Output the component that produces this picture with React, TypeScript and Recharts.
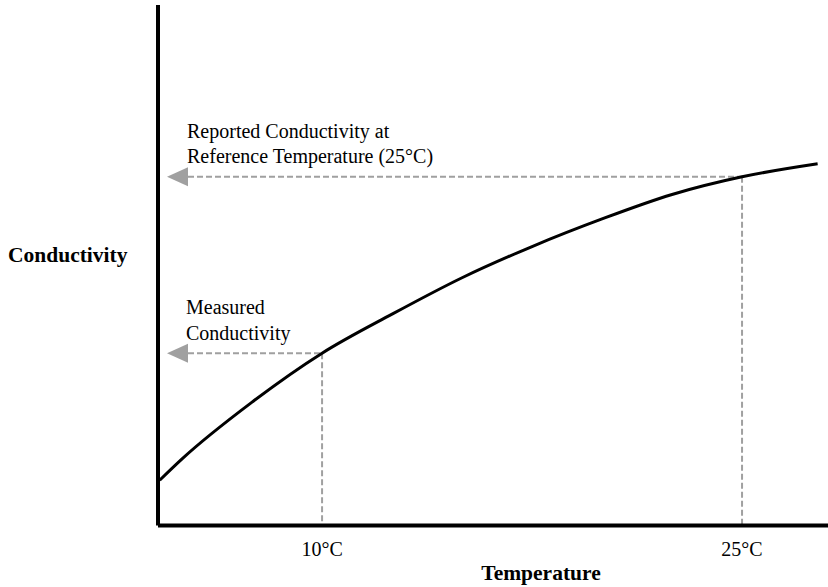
import React from 'react';
import { LineChart, Line, XAxis, YAxis, ReferenceLine } from 'recharts';

// Temperature (°C) along the curve and conductivity (arbitrary units)
const temperatures = [4.2, 5, 7.5, 10, 12.5, 15, 17.5, 20, 22.5, 25, 27.7];
const conductivity = [8.7, 12.8, 23.7, 33.1, 40.6, 47.6, 53.6, 58.9, 63.6, 67.0, 69.5];

const tempTicks = [10, 25];
const tickLabels: Record<number, string> = { 10: '10°C', 25: '25°C' };

// measured point and reference point on the curve
const measured = { t: 10, c: 33.1 };
const reported = { t: 25, c: 67.0 };

const X_DOMAIN: [number, number] = [4.14, 28.07];
const Y_DOMAIN: [number, number] = [0, 100];

const data = temperatures.map((t, i) => ({ t, c: conductivity[i] }));

const FONT = "'Liberation Serif', 'Times New Roman', serif";
const GRAY = '#a0a0a0';

function ArrowLine(props: any) {
  const { x1, y1, x2, y2 } = props;
  const left = Math.min(x1, x2);
  const right = Math.max(x1, x2);
  const tip = left + 9;
  const base = tip + 21;
  return (
    <g>
      <line x1={base} y1={y1} x2={right} y2={y2} stroke={GRAY} strokeWidth={2} strokeDasharray="6 3" />
      <polygon points={`${tip},${y1} ${base},${y1 - 9.5} ${base},${y1 + 9.5}`} fill={GRAY} />
    </g>
  );
}

export default function App() {
  return (
    <div style={{ position: 'absolute', left: 0, top: 0, width: 828, height: 587, background: '#fff' }}>
      <LineChart width={828} height={587} data={data} margin={{ top: 5, right: 0, bottom: 0, left: 0 }}>
        <XAxis
          dataKey="t"
          type="number"
          domain={X_DOMAIN}
          allowDataOverflow
          ticks={tempTicks}
          tickFormatter={(v) => tickLabels[v] ?? String(v)}
          tick={{ fill: '#000', fontSize: 20, fontFamily: FONT }}
          tickLine={false}
          tickSize={0}
          tickMargin={16}
          axisLine={{ stroke: '#000', strokeWidth: 4 }}
          height={61.5}
        />
        <YAxis
          type="number"
          domain={Y_DOMAIN}
          allowDataOverflow
          tick={false}
          tickLine={false}
          axisLine={{ stroke: '#000', strokeWidth: 4 }}
          width={158}
        />
        <ReferenceLine
          segment={[{ x: X_DOMAIN[0], y: reported.c }, { x: reported.t, y: reported.c }]}
          shape={ArrowLine}
          ifOverflow="visible"
        />
        <ReferenceLine
          segment={[{ x: reported.t, y: reported.c }, { x: reported.t, y: 0 }]}
          stroke={GRAY}
          strokeWidth={2}
          strokeDasharray="6 3"
          ifOverflow="visible"
        />
        <ReferenceLine
          segment={[{ x: X_DOMAIN[0], y: measured.c }, { x: measured.t, y: measured.c }]}
          shape={ArrowLine}
          ifOverflow="visible"
        />
        <ReferenceLine
          segment={[{ x: measured.t, y: measured.c }, { x: measured.t, y: 0 }]}
          stroke={GRAY}
          strokeWidth={2}
          strokeDasharray="6 3"
          ifOverflow="visible"
        />
        <Line
          type="monotone"
          dataKey="c"
          stroke="#000"
          strokeWidth={3}
          dot={false}
          isAnimationActive={false}
        />
        <text x={8} y={262} fontFamily={FONT} fontSize={21.5} fontWeight="bold" fill="#000">Conductivity</text>
        <text x={541} y={580} fontFamily={FONT} fontSize={21.5} fontWeight="bold" fill="#000" textAnchor="middle">Temperature</text>
        <text x={187} y={138} fontFamily={FONT} fontSize={20} fill="#000">Reported Conductivity at</text>
        <text x={187} y={163} fontFamily={FONT} fontSize={20} fill="#000">Reference Temperature (25°C)</text>
        <text x={186} y={314} fontFamily={FONT} fontSize={20} fill="#000">Measured</text>
        <text x={186} y={340} fontFamily={FONT} fontSize={20} fill="#000">Conductivity</text>
      </LineChart>
    </div>
  );
}
